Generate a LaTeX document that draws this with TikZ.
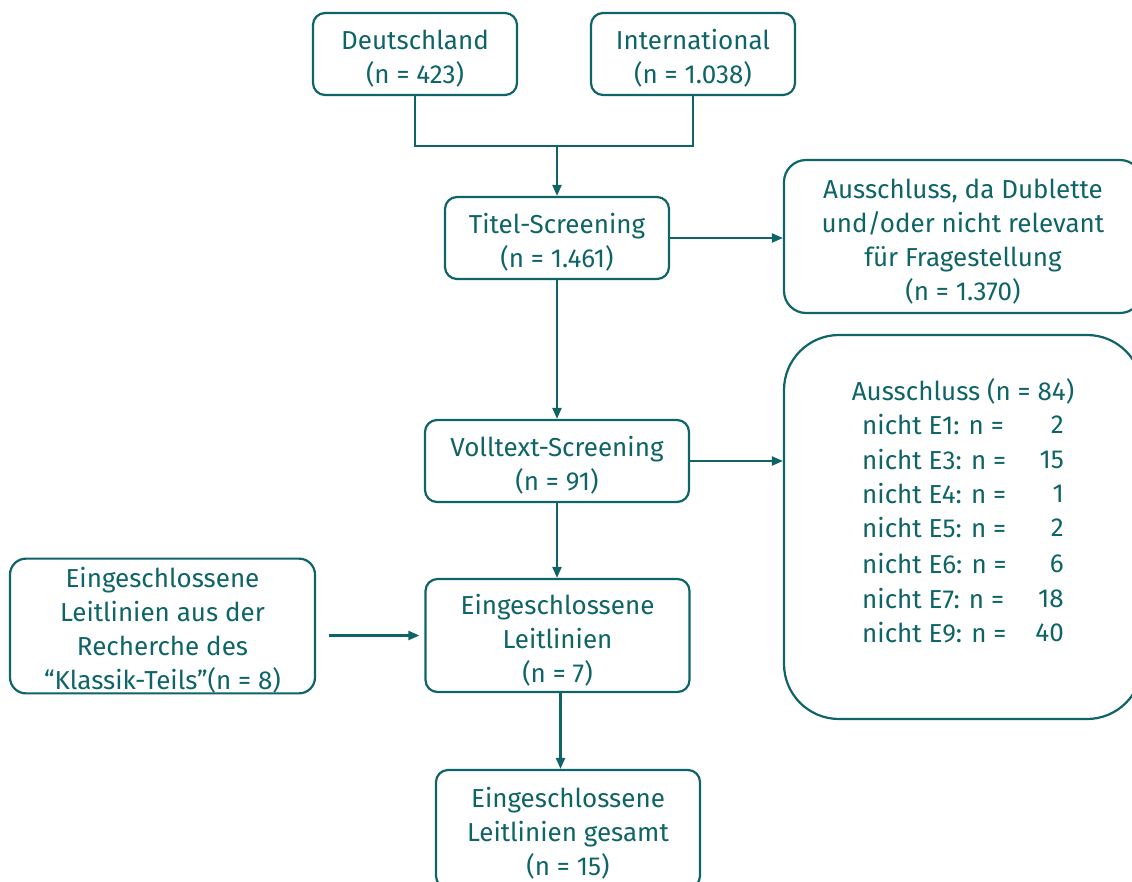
\documentclass[tikz,border=0pt]{standalone}
\usepackage{fontspec}
\setmainfont{Fira Sans}
\usetikzlibrary{arrows.meta}
\definecolor{teal1}{RGB}{14,100,102}
% taller first line pushes the text block slightly down inside its box
\newcommand\topstrut{\rule{0pt}{29pt}}
\tikzset{
  box/.style={draw=teal1, line width=2.2pt, rounded corners=12pt, text=teal1,
    align=center, inner sep=0pt, font=\fontsize{26}{34}\selectfont},
  conn/.style={draw=teal1, line width=2.2pt},
  arr/.style={conn, -{Triangle[length=11pt,width=9pt]}},
  txt/.style={text=teal1, inner sep=0pt, font=\fontsize{26}{34}\selectfont},
}
\begin{document}
\begin{tikzpicture}[x=1pt,y=-1pt]
\useasboundingbox (0,0) rectangle (1132,881);
\clip (0,0) rectangle (1132,881);

% source databases
\node[box, minimum width=204pt, minimum height=82pt] (de) at (415,54) {\topstrut Deutschland\\(n = 423)};
\node[box, minimum width=204pt, minimum height=82pt] (int) at (693,54) {\topstrut International\\(n = 1.038)};

% screening steps
\node[box, minimum width=224pt, minimum height=82pt] (titel) at (557,238) {\topstrut Titel-Screening\\(n = 1.461)};
\node[box, minimum width=264pt, minimum height=82pt] (voll) at (557,461) {\topstrut Volltext-Screening\\(n = 91)};
\node[box, minimum width=264pt, minimum height=113pt] (eing) at (557.5,635.5) {\topstrut Eingeschlossene\\Leitlinien\\(n = 7)};
\node[box, minimum width=264pt, minimum height=118pt] (ges) at (568,829) {\topstrut Eingeschlossene\\Leitlinien gesamt\\(n = 15)};
\node[box, minimum width=305pt, minimum height=132pt, rounded corners=16pt] (klassik) at (162.5,626)
  {\topstrut Eingeschlossene\\Leitlinien aus der\\Recherche des\\\textquotedblleft Klassik-Teils\textquotedblright(n = 8)};

% exclusions
\node[box, minimum width=358pt, minimum height=153pt, rounded corners=22pt] (aus1) at (963,236.5)
  {\topstrut Ausschluss, da Dublette\\und/oder nicht relevant\\für Fragestellung\\(n = 1.370)};
\node[box, minimum width=358pt, minimum height=384pt, rounded corners=55pt] (aus2) at (963,527) {};
\node[txt] (aust) at (963,391) {Ausschluss (n = 84)};
\foreach \k/\v/\y in {1/2/425, 3/15/460, 4/1/494, 5/2/528, 6/6/564, 7/18/599, 9/40/633} {
  \node[txt, anchor=west] (r\k) at (862,\y) {nicht E\k: n =};
  \node[txt, anchor=east] (v\k) at (1064,\y) {\v};
}

% connectors
\coordinate (m) at (557,146);
\draw[conn] (de.south) |- (m) -| (int.south);
\draw[arr] (m) -- (titel.north);
\draw[arr] (titel.east) -- (titel.east -| aus1.west);
\draw[arr] (titel.south) -- (voll.north);
\draw[arr] (voll.east) -- (voll.east -| aus2.west);
\draw[arr] (voll.south) -- (voll.south |- eing.north);
\draw[arr] ([xshift=3pt]eing.south) -- ([xshift=3pt]eing.south |- ges.north);
\draw[arr, shorten <=13pt, shorten >=5pt] (klassik.east |- eing.west) -- (eing.west);
\end{tikzpicture}
\end{document}
